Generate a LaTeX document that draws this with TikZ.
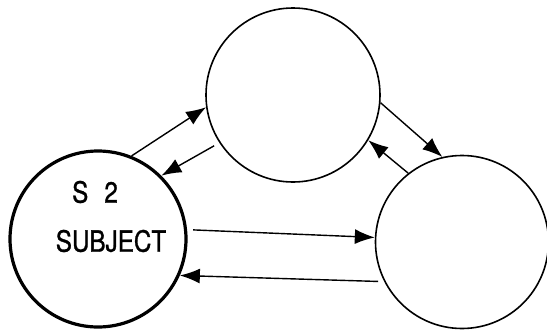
\documentclass[tikz,border=0pt]{standalone}
\usepackage{fontspec}
\newfontfamily\letterfont[FakeStretch=0.83,FakeBold=1]{TeX Gyre Heros}
\usetikzlibrary{arrows.meta}
\tikzstyle{state}=[circle,draw,line width=0.8pt,minimum size=87pt,inner sep=0pt]
\tikzstyle{boldstate}=[state,line width=1.6pt,minimum size=88pt]
\tikzstyle{edge}=[draw,line width=0.7pt,-{Latex[length=10pt,width=7.5pt]}]
\tikzstyle{tag}=[font=\letterfont\fontsize{14.6}{16}\selectfont,inner sep=0pt]

\begin{document}
\begin{tikzpicture}[x=0.5pt,y=-0.5pt]
    \useasboundingbox (0,0) rectangle (547,333);

    \node[boldstate] (subject) at (98,239) {};
    \node[state] (upper) at (293,95) {};
    \node[state, minimum size=86.5pt] (lower) at (462,242) {};

    \node[tag] (s2) at (95,192) {S\hspace{0.55em}2};
    \node[tag] (subjname) at (111,241) {SUBJECT};

    \foreach \source/\dest/\gap in {subject.68/upper.188/0pt, upper.213/subject.45/3pt, upper.355/lower.103/0pt, lower.128/upper.329/0pt, subject.6/lower.177/3pt, lower.207/subject.336/3pt}
        \path[edge, shorten <=\gap] (\source) -- (\dest);

\end{tikzpicture}
\end{document}
